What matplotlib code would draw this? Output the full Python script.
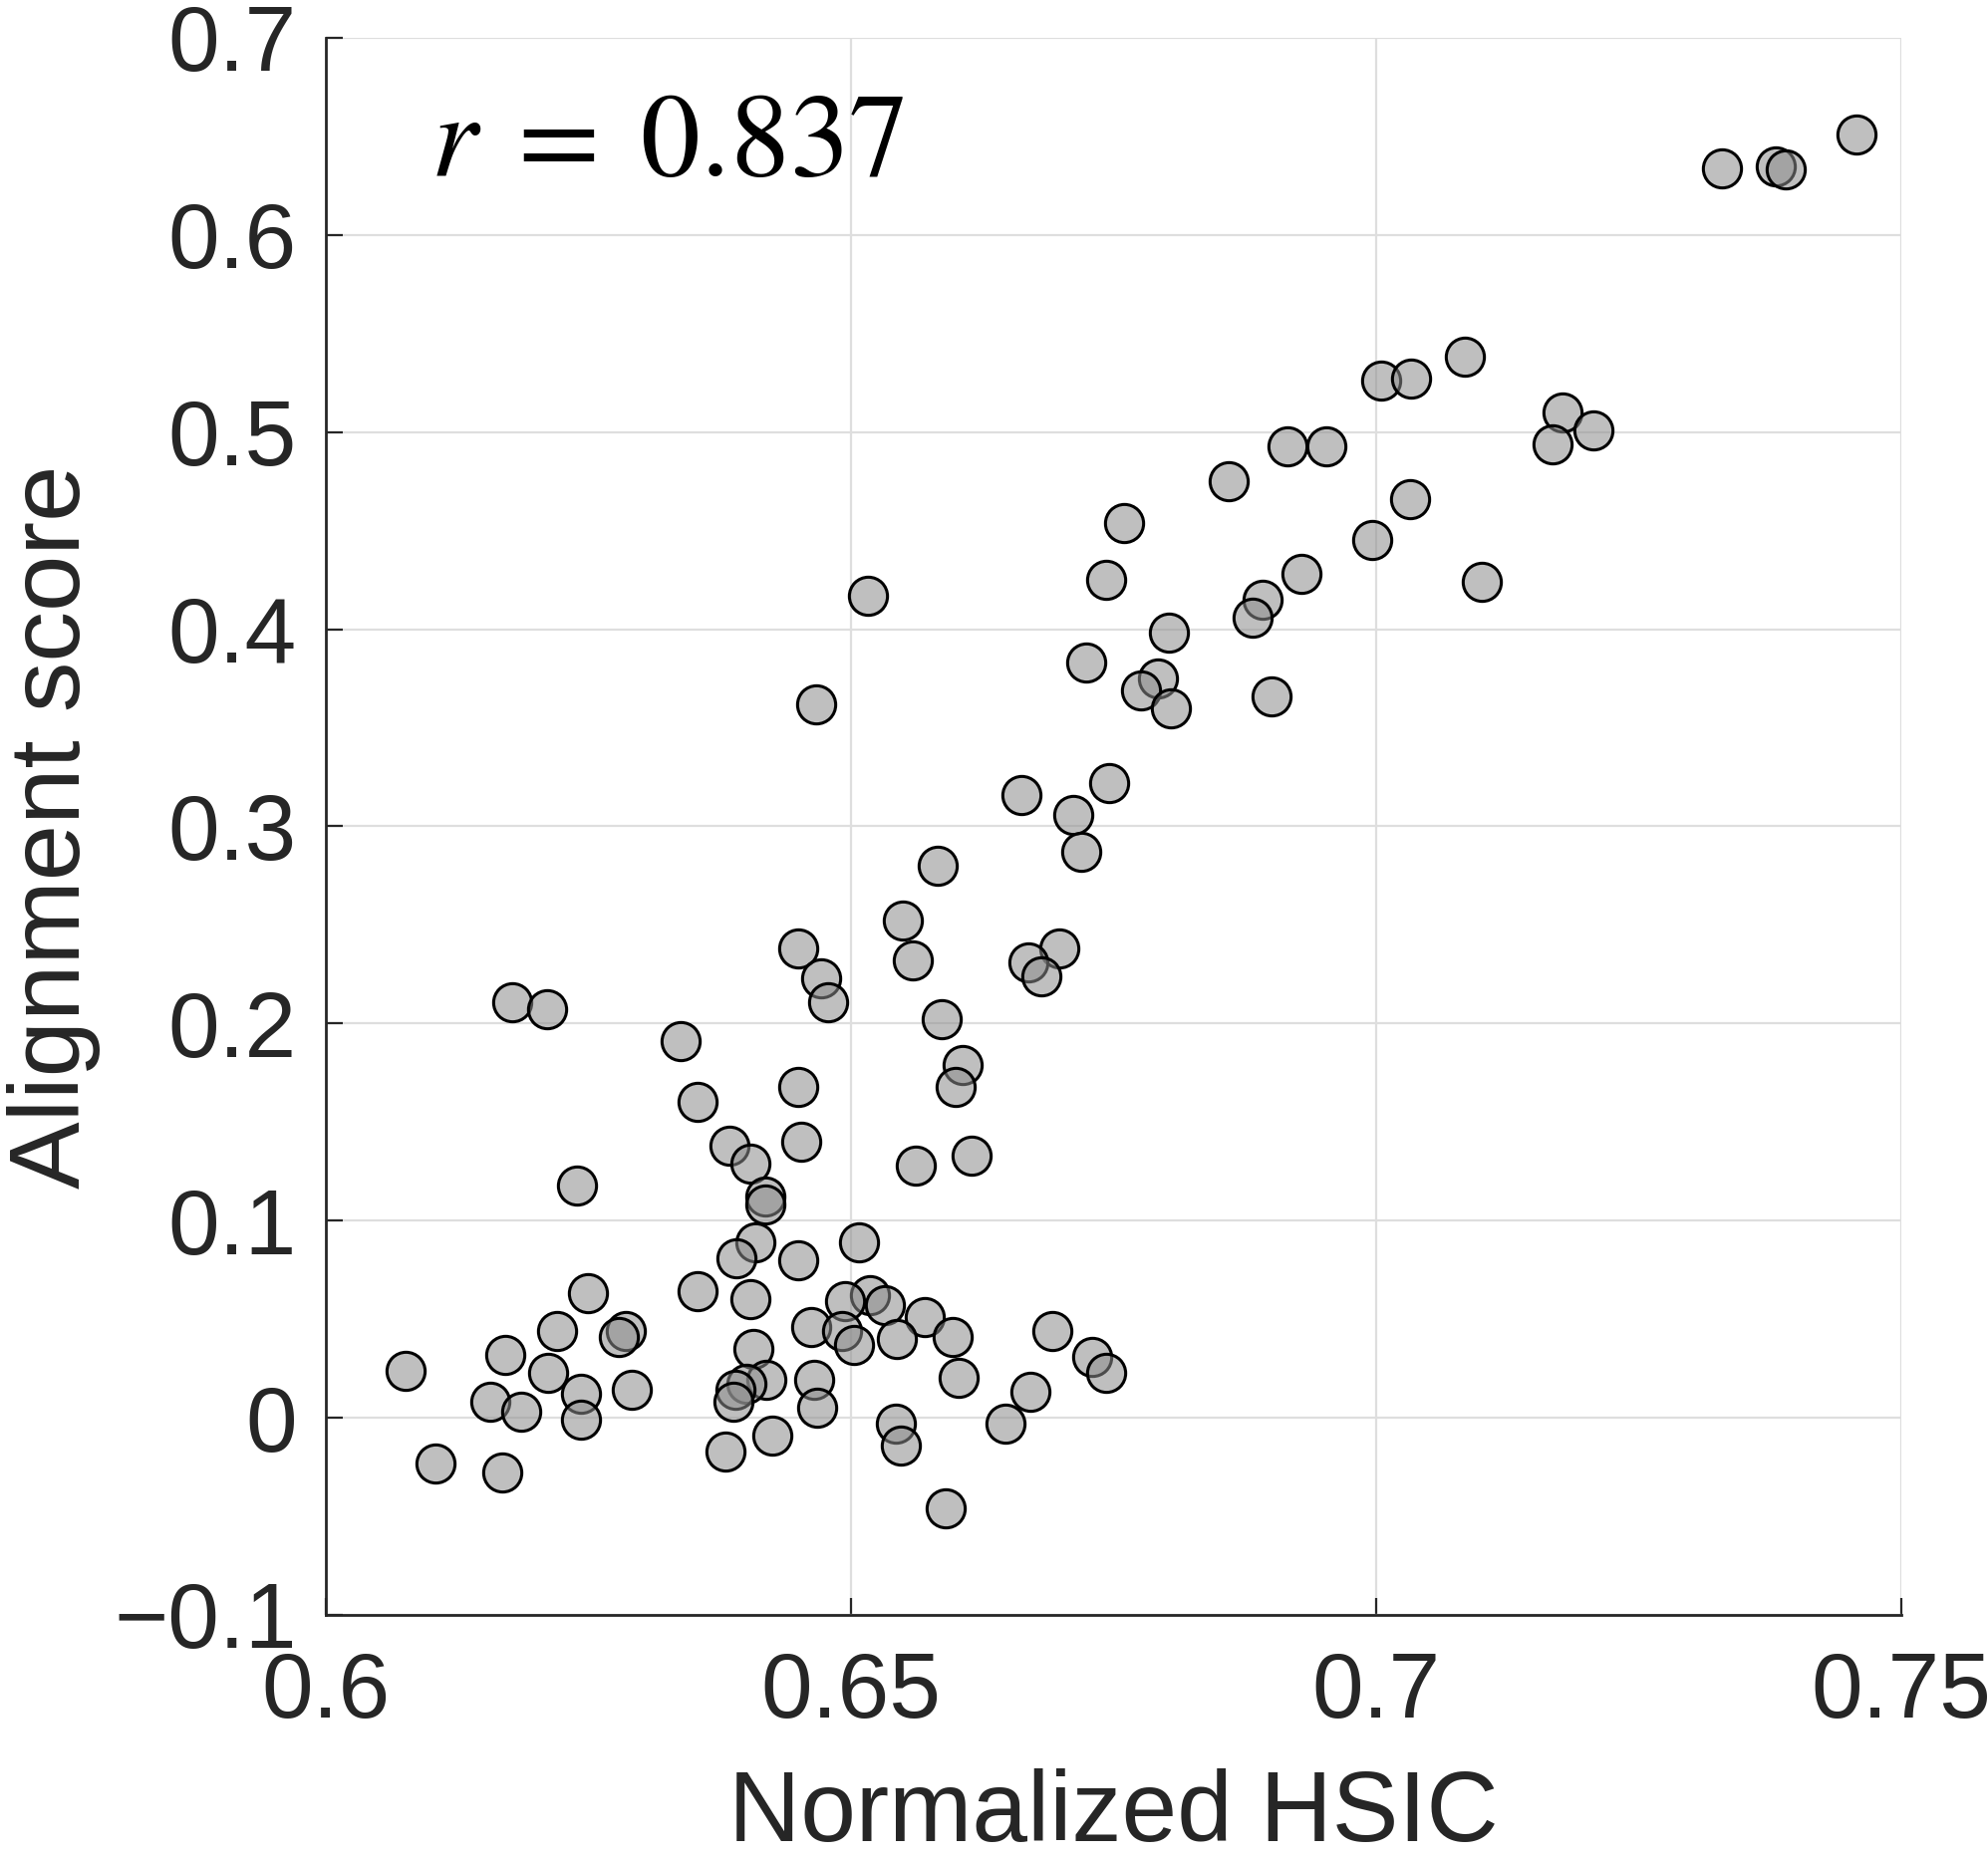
import matplotlib
matplotlib.use("Agg")
import matplotlib.pyplot as plt
from matplotlib.ticker import FixedLocator, FixedFormatter

# ---- data ----
hsic = [0.7329, 0.7380, 0.7390, 0.7457, 0.7084, 0.7005, 0.7033, 0.7177, 0.7168, 0.7207,
        0.6916, 0.6953, 0.6860, 0.7032, 0.6760, 0.6996, 0.6743, 0.6929, 0.7101, 0.6516,
        0.6892, 0.6882, 0.6803, 0.6724, 0.6792, 0.6776, 0.6805, 0.6900, 0.6467, 0.6746,
        0.6662, 0.6712, 0.6719, 0.6583, 0.6549, 0.6450, 0.6698, 0.6559, 0.6669, 0.6681,
        0.6472, 0.6478, 0.6177, 0.6211, 0.6586, 0.6338, 0.6606, 0.6600, 0.6450, 0.6354,
        0.6384, 0.6453, 0.6404, 0.6562, 0.6615, 0.6239, 0.6418, 0.6418, 0.6409, 0.6508,
        0.6391, 0.6450, 0.6250, 0.6354, 0.6518, 0.6404, 0.6494, 0.6532, 0.6570, 0.6220,
        0.6286, 0.6462, 0.6692, 0.6491, 0.6279, 0.6597, 0.6544, 0.6503, 0.6407, 0.6171,
        0.6730, 0.6743, 0.6076, 0.6212, 0.6465, 0.6419, 0.6602, 0.6400, 0.6291, 0.6390,
        0.6671, 0.6243, 0.6157, 0.6468, 0.6388, 0.6186, 0.6243, 0.6543, 0.6647, 0.6425,
        0.6547, 0.6380, 0.6104, 0.6168, 0.6590]
align = [0.634, 0.635, 0.633, 0.651, 0.538, 0.526, 0.527, 0.510, 0.494, 0.501,
         0.493, 0.493, 0.475, 0.466, 0.454, 0.445, 0.425, 0.428, 0.424, 0.417,
         0.415, 0.406, 0.398, 0.383, 0.375, 0.369, 0.360, 0.366, 0.362, 0.322,
         0.316, 0.306, 0.287, 0.280, 0.252, 0.238, 0.238, 0.232, 0.231, 0.224,
         0.223, 0.211, 0.211, 0.207, 0.202, 0.191, 0.179, 0.168, 0.168, 0.160,
         0.138, 0.140, 0.129, 0.128, 0.133, 0.118, 0.112, 0.108, 0.089, 0.089,
         0.081, 0.080, 0.063, 0.064, 0.062, 0.060, 0.059, 0.057, 0.051, 0.044,
         0.044, 0.046, 0.044, 0.044, 0.041, 0.041, 0.040, 0.037, 0.035, 0.032,
         0.031, 0.023, 0.024, 0.023, 0.019, 0.019, 0.020, 0.017, 0.014, 0.014,
         0.013, 0.012, 0.008, 0.005, 0.008, 0.003, -0.001, -0.003, -0.003, -0.009,
         -0.014, -0.017, -0.023, -0.028, -0.046]

x_ticks = [0.6, 0.65, 0.7, 0.75]
x_tick_labels = ["0.6", "0.65", "0.7", "0.75"]
y_ticks = [-0.1, 0, 0.1, 0.2, 0.3, 0.4, 0.5, 0.6, 0.7]
y_tick_labels = ["\u22120.1", "0", "0.1", "0.2", "0.3", "0.4", "0.5", "0.6", "0.7"]
r_text = r"$r\;=\;0.837$"
x_label = "Normalized HSIC"
y_label = "Alignment score"

# ---- figure ----
plt.rcParams["mathtext.fontset"] = "stix"
fig = plt.figure(figsize=(19.95, 18.67), dpi=100)
ax = fig.add_axes([0.1639, 0.1318, 0.7925, 0.8479])

ax.scatter(hsic, align, s=760, facecolors=(0.55, 0.55, 0.55, 0.55),
           edgecolors="black", linewidths=2.2, zorder=3)

ax.set_xlim(0.6, 0.75)
ax.set_ylim(-0.1, 0.7)
ax.xaxis.set_major_locator(FixedLocator(x_ticks))
ax.xaxis.set_major_formatter(FixedFormatter(x_tick_labels))
ax.yaxis.set_major_locator(FixedLocator(y_ticks))
ax.yaxis.set_major_formatter(FixedFormatter(y_tick_labels))

ax.grid(True, color="#dedede", linewidth=1.6, zorder=0)
ax.set_axisbelow(True)
for s in ("top", "right"):
    ax.spines[s].set_visible(False)
for s in ("left", "bottom"):
    ax.spines[s].set_color("#262626")
    ax.spines[s].set_linewidth(2.0)

tick_font = ["Liberation Sans Narrow", "Liberation Sans", "DejaVu Sans"]
ax.tick_params(axis="both", direction="in", length=12, width=1.6, color="#262626",
               labelsize=67, labelcolor="#262626")
ax.tick_params(axis="x", pad=26)
ax.tick_params(axis="y", pad=21)
for lab in ax.get_xticklabels() + ax.get_yticklabels():
    lab.set_family(tick_font)

ax.set_xlabel(x_label, fontsize=72, color="#262626",
              family=["Liberation Sans", "DejaVu Sans"], va="baseline")
ax.xaxis.set_label_coords(0.5, -0.1435)
ax.set_ylabel(y_label, fontsize=73, color="#262626",
              family=["Liberation Sans", "DejaVu Sans"], va="baseline")
ax.yaxis.set_label_coords(-0.156, 0.5)

ax.text(0.610, 0.630, r_text, fontsize=86, color="black", ha="left", va="baseline")

fig.savefig("out.png", dpi=100, facecolor="white")
